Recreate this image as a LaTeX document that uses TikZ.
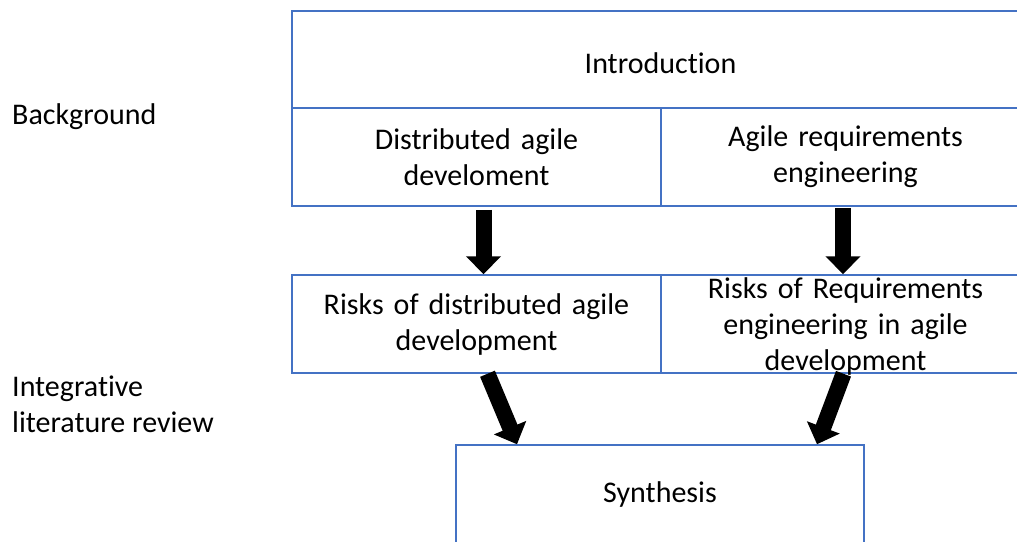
\documentclass[tikz,border=0pt]{standalone}
\usepackage{fontspec}
\setmainfont[Ligatures=NoCommon]{Carlito}
\usetikzlibrary{arrows.meta}
\definecolor{boxblue}{HTML}{4472C4}
\tikzset{
  block/.style={draw=boxblue, line width=1.5pt, minimum width=369pt, minimum height=98pt,
    inner sep=0pt, text width=360pt, align=center},
  bigarrow/.style={line width=16pt, -{Triangle[width=34pt,length=18pt]}},
  sidelabel/.style={anchor=west, inner sep=0pt, align=left},
}

\begin{document}
\begin{tikzpicture}[x=1pt,y=-1pt,font=\fontsize{30}{36}\selectfont]
   \useasboundingbox (0,0) rectangle (1017,541);
   % left labels
   \node[sidelabel] (bg) at (12,117) {Background};
   \node[sidelabel] (ilr) at (12,404) {Integrative\\literature review};
   % boxes
   \node[block, minimum width=737pt, minimum height=97pt, text height=27pt, text depth=0pt] (intro) at (660.5,59.5) {Introduction};
   \node[block] (dad) at (476.5,157) {Distributed agile\\develoment};
   \node[block] (are) at (845.5,157) {Agile requirements\\engineering};
   \node[block] (rda) at (476.5,324) {Risks of distributed agile\\development};
   \node[block, text height=23pt, text depth=75pt] (rre) at (845.5,324)
      {Risks of Requirements\\engineering in agile\\development};
   \node[block, minimum width=408pt, text width=400pt, text height=24pt, text depth=7pt] (synth) at (660,494) {Synthesis};
   % arrows
   \draw[bigarrow] ([xshift=7pt,yshift=-3pt]dad.south) -- ([xshift=7pt]rda.north);
   \draw[bigarrow] ([xshift=-2.5pt,yshift=-1pt]are.south) -- ([xshift=-2.5pt]rre.north);
   \draw[bigarrow] ([xshift=11pt]rda.south) -- ([xshift=-143pt]synth.north);
   \draw[bigarrow] ([xshift=-2pt]rre.south) -- ([xshift=157pt]synth.north);
\end{tikzpicture}
\end{document}
